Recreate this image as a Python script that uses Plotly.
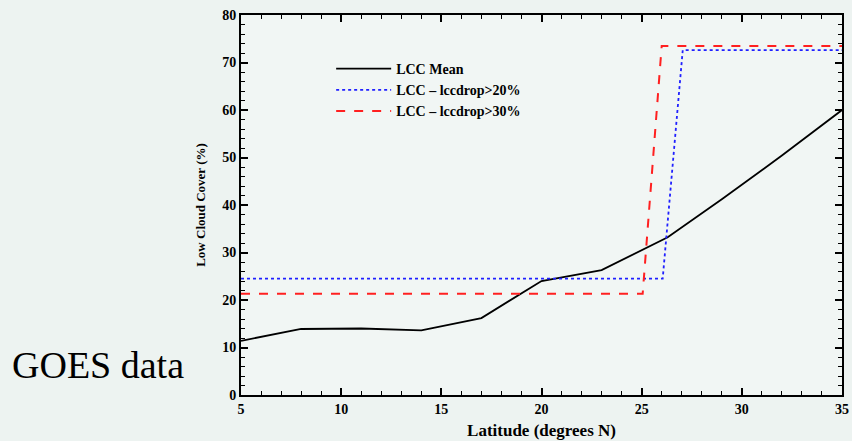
import plotly.graph_objects as go

mean_lat = [5, 8, 11, 14, 17, 20, 23, 25, 26.3, 29, 32, 35]
mean_lcc = [11.4, 13.9, 14.0, 13.6, 16.2, 24.0, 26.3, 30.5, 33.2, 41.2, 50.4, 60.0]

d20_lat = [5, 26.05, 27.05, 35]
d20_lcc = [24.5, 24.5, 72.6, 72.6]

d30_lat = [5, 25.05, 26.0, 35]
d30_lcc = [21.3, 21.3, 73.5, 73.5]

names = ["LCC Mean", "LCC \u2013 lccdrop>20%", "LCC \u2013 lccdrop>30%"]

serif = "Liberation Serif, Times New Roman, DejaVu Serif, serif"
fig = go.Figure()
fig.add_trace(go.Scatter(x=mean_lat, y=mean_lcc, mode="lines", name=names[0],
                         line=dict(color="black", width=1.8)))
fig.add_trace(go.Scatter(x=d20_lat, y=d20_lcc, mode="lines", name=names[1],
                         line=dict(color="#2020ff", width=1.8, dash="dot")))
fig.add_trace(go.Scatter(x=d30_lat, y=d30_lcc, mode="lines", name=names[2],
                         line=dict(color="#ff2020", width=2, dash="dash")))

axis_common = dict(showline=True, linecolor="black", linewidth=2, mirror="ticks",
                   ticks="inside", ticklen=7, tickwidth=1.5, tickcolor="black",
                   showgrid=False, zeroline=False, automargin=False,
                   tickfont=dict(family=serif, size=14, color="black", weight="bold"))

fig.update_layout(
    width=852, height=441,
    margin=dict(l=241, r=10, t=15, b=46),
    paper_bgcolor="#edf3f1", plot_bgcolor="#f1f6f4",
    showlegend=True,
    legend=dict(x=0.15, y=0.9, xanchor="left", yanchor="top",
                bgcolor="rgba(0,0,0,0)", tracegroupgap=0, itemwidth=55,
                font=dict(family=serif, size=14, color="black", weight="bold")),
    xaxis=dict(range=[5, 35], dtick=5, tick0=5,
               minor=dict(dtick=1, ticks="inside", ticklen=4, tickcolor="black", tickwidth=1),
               title=dict(text="Latitude (degrees N)", standoff=8,
                          font=dict(family=serif, size=17, color="black", weight="bold")),
               **axis_common),
    yaxis=dict(range=[0, 80], dtick=10,
               minor=dict(dtick=2, ticks="inside", ticklen=4, tickcolor="black", tickwidth=1),
               title=dict(text="Low Cloud Cover (%)", standoff=14,
                          font=dict(family=serif, size=13, color="black", weight="bold")),
               **axis_common),
    annotations=[dict(text="GOES data", xref="paper", yref="paper", x=-0.385, y=0.08,
                      xanchor="left", yanchor="middle", showarrow=False,
                      font=dict(family=serif, size=38, color="black"))],
)

fig.write_html("out.html")
